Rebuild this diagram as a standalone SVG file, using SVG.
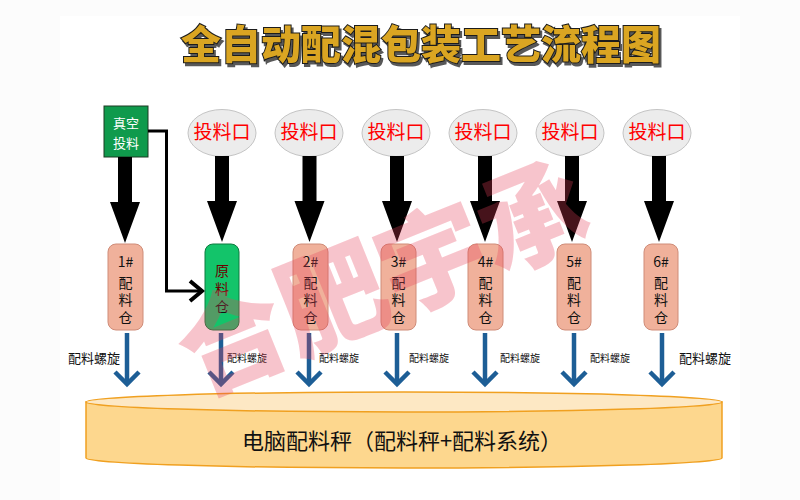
<svg xmlns="http://www.w3.org/2000/svg" width="800" height="500" viewBox="0 0 800 500">
<defs>
<style>
.cjk{font-family:"Noto Sans CJK SC","Noto Sans",sans-serif}
.title{font-size:40px;font-weight:900;text-anchor:middle}
.feed ellipse{fill:#ececec;stroke:#c4c4c4;stroke-width:1}
.feed text{fill:#ff0000;font-size:19px;text-anchor:middle}
.bin rect{fill:#f0b19b;stroke:#cf8c78;stroke-width:1}
.bin text{fill:#111;font-size:14px;text-anchor:middle}
.big{fill:#000}
.blue line,.blue path{stroke:#1d5e96;stroke-width:4.5;fill:none}
.lbl{fill:#111;font-size:10px}
.lbl.l{font-size:13px}
</style>
<filter id="shadow" x="-5%" y="-20%" width="110%" height="150%">
<feDropShadow dx="2" dy="3" stdDeviation="0.6" flood-color="#444" flood-opacity="0.9"/>
</filter>
<path id="bigArrow" d="M-7,0 L7,0 L7,45 L15,45 L0,86 L-15,45 L-7,45 Z"/>
</defs>
<rect x="0" y="0" width="800" height="500" fill="#fcfcfc"/>
<rect x="60" y="16" width="680" height="484" fill="#ffffff"/>

<g id="title" class="cjk">
<text class="title" x="421" y="59" fill="#daa520" stroke="#1a1a1a" stroke-width="2" paint-order="stroke" filter="url(#shadow)">全自动配混包装工艺流程图</text>
</g>

<g id="vacuum" class="cjk">
<rect x="104" y="106" width="44" height="51" fill="#0f9a4c" stroke="#1d3b22" stroke-width="1"/>
<text x="126" y="128" fill="#fff" font-size="13" text-anchor="middle">真空<tspan x="126" dy="20">投料</tspan></text>
</g>

<g id="feeds" class="cjk">
<g id="feed1" class="feed"><ellipse cx="222" cy="133" rx="34" ry="23.5"/><text x="222" y="139">投料口</text></g>
<g id="feed2" class="feed"><ellipse cx="309" cy="133" rx="34" ry="23.5"/><text x="309" y="139">投料口</text></g>
<g id="feed3" class="feed"><ellipse cx="396" cy="133" rx="34" ry="23.5"/><text x="396" y="139">投料口</text></g>
<g id="feed4" class="feed"><ellipse cx="483" cy="133" rx="34" ry="23.5"/><text x="483" y="139">投料口</text></g>
<g id="feed5" class="feed"><ellipse cx="570" cy="133" rx="34" ry="23.5"/><text x="570" y="139">投料口</text></g>
<g id="feed6" class="feed"><ellipse cx="657" cy="133" rx="34" ry="23.5"/><text x="657" y="139">投料口</text></g>
</g>

<g id="connectors">
<use href="#bigArrow" class="big" x="125" y="157"/>
<use href="#bigArrow" class="big" x="222" y="156"/>
<use href="#bigArrow" class="big" x="309.5" y="156"/>
<use href="#bigArrow" class="big" x="397" y="156"/>
<use href="#bigArrow" class="big" x="485" y="156"/>
<use href="#bigArrow" class="big" x="572" y="156"/>
<use href="#bigArrow" class="big" x="659" y="156"/>
<path d="M148,131 L166.5,131 L166.5,291 L201,291" fill="none" stroke="#000" stroke-width="3"/>
<path d="M190,281 L202,291 L190,301" fill="none" stroke="#000" stroke-width="4"/>
<g class="blue">
<line x1="127" y1="333" x2="127" y2="384"/><path d="M115,372 L127,384 L139,372"/>
<line x1="221" y1="333" x2="221" y2="384"/><path d="M209,372 L221,384 L233,372"/>
<line x1="309" y1="333" x2="309" y2="384"/><path d="M297,372 L309,384 L321,372"/>
<line x1="397" y1="333" x2="397" y2="384"/><path d="M385,372 L397,384 L409,372"/>
<line x1="485" y1="333" x2="485" y2="384"/><path d="M473,372 L485,384 L497,372"/>
<line x1="574" y1="333" x2="574" y2="384"/><path d="M562,372 L574,384 L586,372"/>
<line x1="662" y1="333" x2="662" y2="384"/><path d="M650,372 L662,384 L674,372"/>
</g>
</g>

<g id="bins" class="cjk">
<g id="bin1" class="bin"><rect x="108" y="244" width="35" height="86" rx="8"/><text x="125.5" y="267">1#<tspan x="125.5" dy="20.5">配</tspan><tspan x="125.5" dy="17.5">料</tspan><tspan x="125.5" dy="17.5">仓</tspan></text></g>
<g id="rawbin" class="bin"><rect x="205" y="244" width="34" height="86" rx="8" style="fill:#13c46a;stroke:#0d7a3e"/><text x="222" y="276" style="fill:#6a0000">原<tspan x="222" dy="18">料</tspan><tspan x="222" dy="18" style="fill:#111">仓</tspan></text></g>
<g id="bin2" class="bin"><rect x="293" y="244" width="35" height="86" rx="8"/><text x="310.5" y="267">2#<tspan x="310.5" dy="20.5">配</tspan><tspan x="310.5" dy="17.5">料</tspan><tspan x="310.5" dy="17.5">仓</tspan></text></g>
<g id="bin3" class="bin"><rect x="381" y="244" width="35" height="86" rx="8"/><text x="398.5" y="267">3#<tspan x="398.5" dy="20.5">配</tspan><tspan x="398.5" dy="17.5">料</tspan><tspan x="398.5" dy="17.5">仓</tspan></text></g>
<g id="bin4" class="bin"><rect x="468" y="244" width="35" height="86" rx="8"/><text x="485.5" y="267">4#<tspan x="485.5" dy="20.5">配</tspan><tspan x="485.5" dy="17.5">料</tspan><tspan x="485.5" dy="17.5">仓</tspan></text></g>
<g id="bin5" class="bin"><rect x="557" y="244" width="34" height="86" rx="8"/><text x="574" y="267">5#<tspan x="574" dy="20.5">配</tspan><tspan x="574" dy="17.5">料</tspan><tspan x="574" dy="17.5">仓</tspan></text></g>
<g id="bin6" class="bin"><rect x="644" y="244" width="34" height="86" rx="8"/><text x="661" y="267">6#<tspan x="661" dy="20.5">配</tspan><tspan x="661" dy="17.5">料</tspan><tspan x="661" dy="17.5">仓</tspan></text></g>
</g>

<g id="labels" class="cjk">
<text class="lbl l" x="68" y="363">配料螺旋</text>
<text class="lbl" x="227" y="362">配料螺旋</text>
<text class="lbl" x="319" y="362">配料螺旋</text>
<text class="lbl" x="409" y="362">配料螺旋</text>
<text class="lbl" x="500" y="362">配料螺旋</text>
<text class="lbl" x="590" y="362">配料螺旋</text>
<text class="lbl l" x="679" y="363">配料螺旋</text>
</g>

<g id="scale" class="cjk">
<path d="M86,402 L86,458 A318,10 0 0 0 722,458 L722,402 Z" fill="#fdd78e" stroke="#f0a020" stroke-width="1.5"/>
<ellipse cx="404" cy="402" rx="318" ry="10" fill="#fde8c4" stroke="#f0a020" stroke-width="1.5"/>
<text x="402" y="449" font-size="22" fill="#111" text-anchor="middle">电脑配料秤（配料秤+配料系统）</text>
</g>

<g id="watermark" class="cjk">
<text x="385" y="318" font-size="108" font-weight="900" fill="#e8405a" opacity="0.3" text-anchor="middle" transform="rotate(-22 385 285)">合肥宇承</text>
</g>
</svg>
